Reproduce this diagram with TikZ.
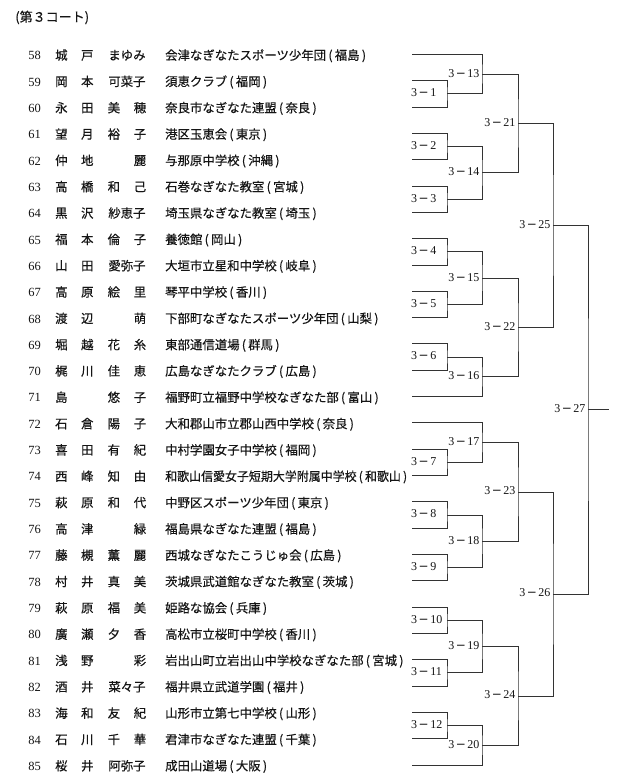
\documentclass[tikz,border=0pt]{standalone}
\usepackage{fontspec}
\usepackage{graphicx}
\setmainfont{Liberation Serif}
\newfontfamily\cjk[FakeBold=0.4]{Noto Sans CJK JP}
\newfontfamily\djv{DejaVu Sans}
\usetikzlibrary{calc}
\definecolor{ink}{HTML}{151515}
\definecolor{wire}{HTML}{333333}
\newcommand\po{\makebox[0.7em][c]{(}}
\newcommand\pc{\makebox[0.7em][c]{)}}
\newcommand\tpo{\makebox[0.5em][r]{(}}
\newcommand\tpc{\makebox[0.5em][l]{)}}
\newcommand\mdash{\kern1.5pt{\djv −}\kern1.5pt}
\newcommand\gap{\hfill}
\tikzset{
  jp/.style={font=\cjk\fontsize{12.4}{14}\selectfont, inner sep=0pt, anchor=base west, text=ink},
  num/.style={font=\fontsize{12.5}{14}\selectfont, inner sep=0pt, anchor=base east, text=ink},
  lab/.style={font=\fontsize{12}{14}\selectfont, inner sep=0pt, text=ink},
  br/.style={draw=wire, line width=0.7pt},
}
\newcommand\entrant[5]{%
  \pgfmathsetmacro\yy{54.3+26.32*#1+5.5}%
  \pgfmathsetmacro\ye{54.3+26.32*#1}%
  \node[num] (n#2) at (41,\yy) {#2};
  \node[jp] (s#2) at (55,\yy) {\makebox[38.3pt]{#3}};
  \node[jp] (g#2) at (107.5,\yy) {\makebox[38.5pt]{#4}};
  \node[jp] (a#2) at (165,\yy) {#5};
  \coordinate (e#2) at (412,\ye);
}
\newcommand\firstmatch[4]{%
  \pgfmathsetmacro\ym{54.3+26.32*#2}%
  \coordinate (m#1) at (447,\ym);
  \draw[br] (#3) -| (m#1) |- (#4);
  \node[lab, anchor=base west] (l#1) at (411,\ym+3) {3\mdash #1};
}
\newcommand\match[5]{%
  \pgfmathsetmacro\ym{54.3+26.32*#3}%
  \coordinate (m#1) at (#2,\ym);
  \draw[br] (#4) -| (m#1) |- (#5);
  \node[lab, anchor=base east] (l#1) at (#2-2.5,\ym+3) {3\mdash #1};
}
\begin{document}
\begin{tikzpicture}[x=1pt,y=-1pt]
\useasboundingbox (0,0) rectangle (620,781);
\node[jp, font=\cjk\fontsize{13}{15}\selectfont] (title) at (13,21.7) {\tpo{}第３コート\tpc};

\entrant{0}{58}{城\gap{}戸}{まゆみ}{会津なぎなたスポーツ少年団\po{}福島\pc}
\entrant{1}{59}{岡\gap{}本}{可菜子}{須恵クラブ\po{}福岡\pc}
\entrant{2}{60}{永\gap{}田}{美\gap{}穂}{奈良市なぎなた連盟\po{}奈良\pc}
\entrant{3}{61}{望\gap{}月}{裕\gap{}子}{港区玉恵会\po{}東京\pc}
\entrant{4}{62}{仲\gap{}地}{\gap{}麗}{与那原中学校\po{}沖縄\pc}
\entrant{5}{63}{高\gap{}橋}{和\gap{}己}{石巻なぎなた教室\po{}宮城\pc}
\entrant{6}{64}{黒\gap{}沢}{紗恵子}{埼玉県なぎなた教室\po{}埼玉\pc}
\entrant{7}{65}{福\gap{}本}{倫\gap{}子}{養徳館\po{}岡山\pc}
\entrant{8}{66}{山\gap{}田}{愛弥子}{大垣市立星和中学校\po{}岐阜\pc}
\entrant{9}{67}{高\gap{}原}{絵\gap{}里}{琴平中学校\po{}香川\pc}
\entrant{10}{68}{渡\gap{}辺}{\gap{}萌}{下部町なぎなたスポーツ少年団\po{}山梨\pc}
\entrant{11}{69}{堀\gap{}越}{花\gap{}糸}{東部通信道場\po{}群馬\pc}
\entrant{12}{70}{梶\gap{}川}{佳\gap{}恵}{広島なぎなたクラブ\po{}広島\pc}
\entrant{13}{71}{島\gap{}}{悠\gap{}子}{福野町立福野中学校なぎなた部\po{}富山\pc}
\entrant{14}{72}{石\gap{}倉}{陽\gap{}子}{大和郡山市立郡山西中学校\po{}奈良\pc}
\entrant{15}{73}{喜\gap{}田}{有\gap{}紀}{中村学園女子中学校\po{}福岡\pc}
\entrant{16}{74}{西\gap{}峰}{知\gap{}由}{\scalebox{0.965}[1]{和歌山信愛女子短期大学附属中学校\po{}和歌山\pc}}
\entrant{17}{75}{萩\gap{}原}{和\gap{}代}{中野区スポーツ少年団\po{}東京\pc}
\entrant{18}{76}{高\gap{}津}{\gap{}緑}{福島県なぎなた連盟\po{}福島\pc}
\entrant{19}{77}{藤\gap{}槻}{薫\gap{}麗}{西城なぎなたこうじゅ会\po{}広島\pc}
\entrant{20}{78}{村\gap{}井}{真\gap{}美}{茨城県武道館なぎなた教室\po{}茨城\pc}
\entrant{21}{79}{萩\gap{}原}{福\gap{}美}{姫路な協会\po{}兵庫\pc}
\entrant{22}{80}{廣\gap{}瀬}{夕\gap{}香}{高松市立桜町中学校\po{}香川\pc}
\entrant{23}{81}{浅\gap{}野}{\gap{}彩}{岩出山町立岩出山中学校なぎなた部\po{}宮城\pc}
\entrant{24}{82}{酒\gap{}井}{菜々子}{福井県立武道学園\po{}福井\pc}
\entrant{25}{83}{海\gap{}和}{友\gap{}紀}{山形市立第七中学校\po{}山形\pc}
\entrant{26}{84}{石\gap{}川}{千\gap{}華}{君津市なぎなた連盟\po{}千葉\pc}
\entrant{27}{85}{桜\gap{}井}{阿弥子}{成田山道場\po{}大阪\pc}

\firstmatch{1}{1.5}{e59}{e60}
\firstmatch{2}{3.5}{e61}{e62}
\firstmatch{3}{5.5}{e63}{e64}
\firstmatch{4}{7.5}{e65}{e66}
\firstmatch{5}{9.5}{e67}{e68}
\firstmatch{6}{11.5}{e69}{e70}
\firstmatch{7}{15.5}{e73}{e74}
\firstmatch{8}{17.5}{e75}{e76}
\firstmatch{9}{19.5}{e77}{e78}
\firstmatch{10}{21.5}{e79}{e80}
\firstmatch{11}{23.5}{e81}{e82}
\firstmatch{12}{25.5}{e83}{e84}

\match{13}{482}{0.75}{e58}{m1}
\match{14}{482}{4.5}{m2}{m3}
\match{15}{482}{8.5}{m4}{m5}
\match{16}{482}{12.25}{m6}{e71}
\match{17}{482}{14.75}{e72}{m7}
\match{18}{482}{18.5}{m8}{m9}
\match{19}{482}{22.5}{m10}{m11}
\match{20}{482}{26.25}{m12}{e85}
\match{21}{518}{2.625}{m13}{m14}
\match{22}{518}{10.375}{m15}{m16}
\match{23}{518}{16.625}{m17}{m18}
\match{24}{518}{24.375}{m19}{m20}
\match{25}{553}{6.5}{m21}{m22}
\match{26}{553}{20.5}{m23}{m24}
\match{27}{588}{13.5}{m25}{m26}

\coordinate (fin) at (609,{54.3+26.32*13.5});
\draw[br] (m27) -- (fin);
\end{tikzpicture}
\end{document}
